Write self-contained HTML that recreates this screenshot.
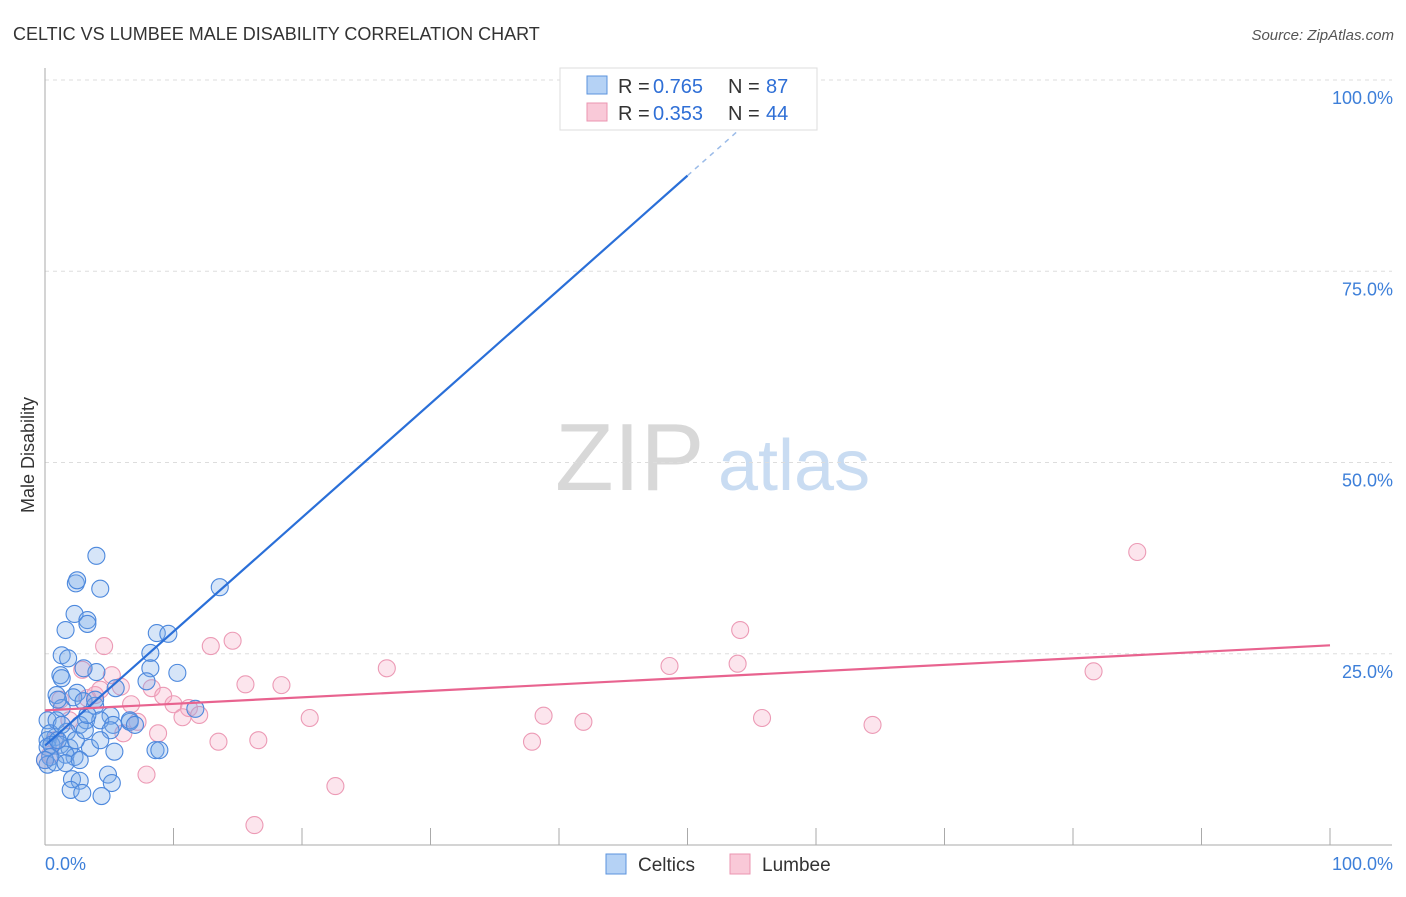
<!DOCTYPE html>
<html><head><meta charset="utf-8"><style>
body{margin:0;background:#fff;font-family:"Liberation Sans",sans-serif;}
svg text{font-family:"Liberation Sans",sans-serif;}
</style></head><body>
<svg id="chart" width="1406" height="892">
<text x="13" y="40" font-size="18" fill="#333">CELTIC VS LUMBEE MALE DISABILITY CORRELATION CHART</text>
<text x="1394" y="40" font-size="15" fill="#555" text-anchor="end" font-style="italic">Source: ZipAtlas.com</text>
<text x="34" y="455" font-size="18" fill="#333" text-anchor="middle" transform="rotate(-90 34 455)">Male Disability</text>
<text x="555" y="490" font-size="96" fill="#d8d8d8" font-family="Liberation Serif">ZIP</text>
<text x="718" y="490" font-size="72" fill="#c9dcf2">atlas</text>
<g id="grid"></g><g id="pts"></g><g id="lines"></g>
<g>
<rect x="560" y="68" width="257" height="62" fill="#fff" stroke="#ddd"/>
<rect x="587" y="76" width="20" height="18" fill="#b5d2f5" stroke="#5b93dd"/>
<rect x="587" y="103" width="20" height="18" fill="#f9c9d8" stroke="#eb95b1"/>
<text x="618" y="93" font-size="20" fill="#333">R =</text>
<text x="653" y="93" font-size="20" fill="#2f6fd6">0.765</text>
<text x="728" y="93" font-size="20" fill="#333">N =</text>
<text x="766" y="93" font-size="20" fill="#2f6fd6">87</text>
<text x="618" y="120" font-size="20" fill="#333">R =</text>
<text x="653" y="120" font-size="20" fill="#2f6fd6">0.353</text>
<text x="728" y="120" font-size="20" fill="#333">N =</text>
<text x="766" y="120" font-size="20" fill="#2f6fd6">44</text>
</g>
<g>
<rect x="606" y="854" width="20" height="20" fill="#b5d2f5" stroke="#5b93dd"/>
<text x="638" y="871" font-size="19" fill="#333">Celtics</text>
<rect x="730" y="854" width="20" height="20" fill="#f9c9d8" stroke="#eb95b1"/>
<text x="762" y="871" font-size="19" fill="#333">Lumbee</text>
</g>
<text x="45" y="870" font-size="18" fill="#3d7fd9">0.0%</text>
<text x="1393" y="870" font-size="18" fill="#3d7fd9" text-anchor="end">100.0%</text>
</svg>
<script>
const yTicks=[100,75,50,25];
const yTickLabels=["100.0%","75.0%","50.0%","25.0%"];
const celticX=[4.0,2.4,2.5,4.3,13.6,2.3,3.3,3.3,1.6,8.7,9.6,1.3,1.8,8.2,1.2,1.3,4.0,10.3,8.2,3.0,7.9,5.5,0.9,2.5,2.2,3.0,3.9,11.7,1.3,5.1,0.2,0.9,3.2,4.3,6.6,5.3,2.7,1.7,0.8,0.4,0.2,0.2,0.5,1.2,1.9,3.5,5.4,8.6,8.9,2.3,1.6,0.4,2.1,2.7,4.9,5.2,2.0,2.9,4.4,0.2,1.0,1.3,2.4,3.1,3.9,5.1,6.6,7.0,0,0.8,1.6,2.7,3.3,1.0,4.3];
const celticY=[37.8,34.2,34.6,33.5,33.7,30.2,29.4,28.9,28.1,27.7,27.6,24.8,24.4,25.1,22.2,21.8,22.6,22.5,23.1,23.1,21.4,20.5,19.6,19.9,19.3,18.8,18.2,17.8,17.9,16.9,16.3,16.3,16.3,16.3,16.1,15.7,15.7,14.8,14.1,14.6,13.7,12.8,13.1,13.1,12.7,12.7,12.2,12.4,12.4,11.5,11.8,11.5,8.6,8.4,9.2,8.1,7.2,6.8,6.4,10.5,13.7,15.7,13.7,15.0,19.0,15.0,16.3,15.7,11.1,10.8,10.7,11.1,17.0,19.0,13.7];
const lumbeeX=[85.0,54.1,14.6,12.9,4.6,53.9,48.6,26.6,81.6,2.9,5.2,15.6,18.4,5.9,8.3,3.9,9.2,3.3,10.0,6.7,11.2,12.0,10.7,20.6,38.8,41.9,55.8,64.4,7.2,6.1,8.8,13.5,16.6,37.9,7.9,22.6,16.3,0.4,0,1.9,4.3,1.2,0.8];
const lumbeeY=[38.3,28.1,26.7,26.0,26.0,23.7,23.4,23.1,22.7,22.9,22.2,21.0,20.9,20.7,20.5,19.6,19.5,19.2,18.4,18.4,17.9,17.0,16.7,16.6,16.9,16.1,16.6,15.7,16.1,14.6,14.6,13.5,13.7,13.5,9.2,7.7,2.6,11.8,11.1,16.3,20.3,19.0,13.7];
const celticTrend=[13.0,1.49];
const lumbeeTrend=[17.6,8.5];
const NS="http://www.w3.org/2000/svg";
const X0=45,X1=1330,Y0=845,Y1=80;
const sx=v=>X0+(X1-X0)*v/100;
const sy=v=>Y0-(Y0-Y1)*v/100;
function mk(t,a,p){const e=document.createElementNS(NS,t);for(const k in a)e.setAttribute(k,a[k]);p.appendChild(e);return e;}
const grid=document.getElementById('grid');
yTicks.forEach((t,i)=>{
 const l=mk('line',{x1:X0,x2:1392,y1:sy(t),y2:sy(t),stroke:'#ddd','stroke-dasharray':'4,4'},grid);
 
 
 const tx=mk('text',{x:1393,y:sy(t)+24,'font-size':18,fill:'#3d7fd9','text-anchor':'end'},grid);
 tx.textContent=yTickLabels[i];
 
 
});
const ax=mk('line',{x1:X0,x2:X0,y1:68,y2:Y0,stroke:'#aaa'},grid);


const bx=mk('line',{x1:X0,x2:1392,y1:Y0,y2:Y0,stroke:'#aaa'},grid);


for(let i=1;i<=10;i++){
 const tk=mk('line',{x1:sx(i*10),x2:sx(i*10),y1:828,y2:Y0,stroke:'#aaa'},grid);
 
 
}
const pts=document.getElementById('pts');
lumbeeX.forEach((x,i)=>{
 const c=mk('circle',{cx:sx(x),cy:sy(lumbeeY[i]),r:8.5,fill:'rgba(244,170,196,0.3)',stroke:'#ec9ab5','stroke-width':1.1},pts);
 
 
});
celticX.forEach((x,i)=>{
 const c=mk('circle',{cx:sx(x),cy:sy(celticY[i]),r:8.5,fill:'rgba(120,170,232,0.3)',stroke:'#4c88dd','stroke-width':1.1},pts);
 
 
});
const lines=document.getElementById('lines');
const cf=x=>celticTrend[0]+celticTrend[1]*x;
const b1=mk('line',{x1:sx(0),y1:sy(cf(0)),x2:sx(50),y2:sy(cf(50)),stroke:'#2a6fd8','stroke-width':2.2},lines);


const b2=mk('line',{x1:sx(50),y1:sy(cf(50)),x2:sx(56),y2:sy(cf(56)),stroke:'#9bbbe8','stroke-width':1.5,'stroke-dasharray':'5,5'},lines);


const lf=x=>lumbeeTrend[0]+lumbeeTrend[1]*x/100;
const p1=mk('line',{x1:sx(0),y1:sy(lf(0)),x2:sx(100),y2:sy(lf(100)),stroke:'#e8638f','stroke-width':2.2},lines);


</script>
</body></html>
